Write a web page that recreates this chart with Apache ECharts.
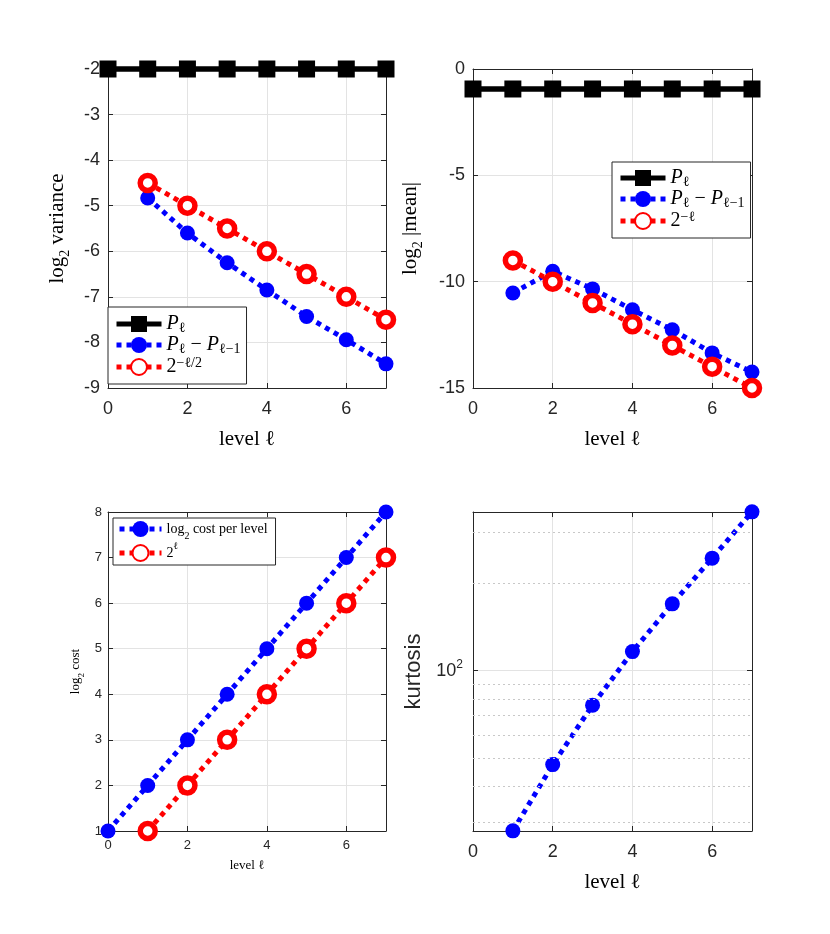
<!DOCTYPE html>
<html>
<head>
<meta charset="utf-8">
<script src="https://cdn.jsdelivr.net/npm/echarts@6/dist/echarts.min.js"></script>
<style>
html, body { margin: 0; padding: 0; background: #fff; }
#chart { width: 830px; height: 934px; }
</style>
</head>
<body>
<div id="chart"></div>
<script>
// levels
const levelsAll = [0, 1, 2, 3, 4, 5, 6, 7];
const levelsFrom1 = [1, 2, 3, 4, 5, 6, 7];

// log2 variance
const varP = [-2, -2, -2, -2, -2, -2, -2, -2];
const varDiff = [-4.83, -5.60, -6.25, -6.85, -7.43, -7.94, -8.47];
const varRef = [-4.5, -5, -5.5, -6, -6.5, -7, -7.5];

// log2 |mean|
const meanP = [-0.94, -0.94, -0.94, -0.94, -0.94, -0.94, -0.94, -0.94];
const meanDiff = [-10.53, -9.51, -10.34, -11.32, -12.26, -13.35, -14.25];
const meanRef = [-9, -10, -11, -12, -13, -14, -15];

// log2 cost
const costPerLevel = [1, 2, 3, 4, 5, 6, 7, 8];
const costRef = [1, 2, 3, 4, 5, 6, 7];

// kurtosis (log axis)
const kurtosis = [28.1, 47.5, 76.1, 116.3, 169.8, 243.9, 352];
const kurtMinorTicks = [30, 40, 50, 60, 70, 80, 90, 200, 300];
const kurtRange = [28.07, 351.6];

const axisColor = '#262626';
const gridColor = '#e3e3e3';
const sans = "'Liberation Sans', Arial, sans-serif";
const serif = "'Liberation Serif', 'DejaVu Serif', serif";

function pairs(xs, ys) {
    return xs.map((x, i) => [x, ys[i]]);
}

// sub/sup get their own small line height so 'top'/'bottom' actually shifts them
function mathRich(size, lh) {
    lh = lh || size + 8;
    const small = Math.round(size * 0.68);
    return {
        t: { fontFamily: serif, fontSize: size, color: '#000', lineHeight: lh },
        i: { fontFamily: serif, fontStyle: 'italic', fontSize: size, color: '#000', lineHeight: lh },
        sub: { fontFamily: serif, fontSize: small, color: '#000', verticalAlign: 'bottom', lineHeight: small + 2 },
        sup: { fontFamily: serif, fontSize: small, color: '#000', verticalAlign: 'top', lineHeight: small + 2 }
    };
}

function xAxes(g, o) {
    return [{
        type: 'value', gridIndex: g, min: 0, max: 7, interval: 2, position: 'bottom',
        name: '{t|level ℓ}', nameLocation: 'middle', nameGap: o.nameGap,
        nameTextStyle: { rich: mathRich(o.nameSize) },
        axisLine: { show: true, onZero: false, lineStyle: { color: axisColor } },
        axisTick: { show: true, inside: true, length: 5, lineStyle: { color: axisColor } },
        axisLabel: { fontFamily: sans, fontSize: o.labelSize, color: axisColor, margin: o.margin, showMaxLabel: false },
        splitLine: { show: true, lineStyle: { color: gridColor } }
    }, {
        type: 'value', gridIndex: g, min: 0, max: 7, interval: 2, position: 'top',
        axisLine: { show: true, onZero: false, lineStyle: { color: axisColor } },
        axisTick: { show: true, inside: true, length: 5, lineStyle: { color: axisColor } },
        axisLabel: { show: false },
        splitLine: { show: false }
    }];
}

function yAxes(g, o) {
    const base = o.log
        ? { type: 'log', logBase: 10, min: o.min, max: o.max }
        : { type: 'value', min: o.min, max: o.max, interval: o.interval };
    return [Object.assign({}, base, {
        gridIndex: g, position: 'left',
        name: o.name, nameLocation: 'middle', nameGap: o.nameGap,
        nameTextStyle: o.nameStyle,
        axisLine: { show: true, onZero: false, lineStyle: { color: axisColor } },
        axisTick: { show: true, inside: true, length: 5, lineStyle: { color: axisColor } },
        axisLabel: Object.assign({ fontFamily: sans, fontSize: o.labelSize, color: axisColor, margin: o.margin }, o.labelExtra || {}),
        splitLine: { show: true, lineStyle: { color: gridColor } }
    }), Object.assign({}, base, {
        gridIndex: g, position: 'right',
        axisLine: { show: true, onZero: false, lineStyle: { color: axisColor } },
        axisTick: { show: true, inside: true, length: 5, lineStyle: { color: axisColor } },
        axisLabel: { show: false },
        splitLine: { show: false }
    })];
}

function blackSeries(name, g, data) {
    return {
        name, type: 'line', xAxisIndex: 2 * g, yAxisIndex: 2 * g, data, clip: false,
        symbol: 'rect', symbolSize: 17,
        itemStyle: { color: '#000' },
        lineStyle: { color: '#000', width: 5.5 }
    };
}
function blueSeries(name, g, data) {
    return {
        name, type: 'line', xAxisIndex: 2 * g, yAxisIndex: 2 * g, data, clip: false,
        symbol: 'circle', symbolSize: 15,
        itemStyle: { color: '#0000ff' },
        lineStyle: { color: '#0000ff', width: 5, type: [5, 5] }
    };
}
function redSeries(name, g, data) {
    return {
        name, type: 'line', xAxisIndex: 2 * g, yAxisIndex: 2 * g, data, clip: false,
        symbol: 'circle', symbolSize: 15,
        itemStyle: { color: '#fff', borderColor: '#ff0000', borderWidth: 5.5 },
        lineStyle: { color: '#ff0000', width: 5, type: [5, 5] }
    };
}

const legendText = {
    var_P: '{i|P}{sub|ℓ}',
    var_dP: '{i|P}{sub|ℓ}{t| − }{i|P}{sub|ℓ−1}',
    var_ref: '{t|2}{sup|−ℓ/2}',
    mean_P: '{i|P}{sub|ℓ}',
    mean_dP: '{i|P}{sub|ℓ}{t| − }{i|P}{sub|ℓ−1}',
    mean_ref: '{t|2}{sup|−ℓ}',
    cost: '{t|log}{sub|2}{t| cost per level}',
    cost_ref: '{t|2}{sup|ℓ}'
};

function legendBox(names, left, top, size, lh, itemW, pad) {
    return {
        data: names, orient: 'vertical', left, top,
        itemWidth: itemW, itemHeight: 20, itemGap: 0, padding: pad,
        backgroundColor: '#fff', borderColor: axisColor, borderWidth: 1, borderRadius: 0,
        selectedMode: false,
        lineStyle: { width: 5 },
        formatter: name => legendText[name],
        textStyle: { rich: mathRich(size, lh) }
    };
}

const chart = echarts.init(document.getElementById('chart'), null, { renderer: 'canvas' });

const option = {
    animation: false,
    backgroundColor: '#fff',
    grid: [
        { left: 108, top: 69, width: 278, height: 319 },
        { left: 473, top: 69, width: 279, height: 319 },
        { left: 108, top: 512, width: 278, height: 319 },
        { left: 473, top: 512, width: 279, height: 319 }
    ],
    xAxis: [].concat(
        xAxes(0, { nameGap: 37, nameSize: 21, labelSize: 18, margin: 12 }),
        xAxes(1, { nameGap: 37, nameSize: 21, labelSize: 18, margin: 12 }),
        xAxes(2, { nameGap: 24, nameSize: 13, labelSize: 13, margin: 8 }),
        xAxes(3, { nameGap: 37, nameSize: 21, labelSize: 18, margin: 12 })
    ),
    yAxis: [].concat(
        yAxes(0, { min: -9, max: -2, interval: 1, name: '{t|log}{sub|2}{t| variance}', nameGap: 36,
            nameStyle: { rich: mathRich(21) }, labelSize: 18, margin: 8 }),
        yAxes(1, { min: -15, max: 0, interval: 5, name: '{t|log}{sub|2}{t| |mean|}', nameGap: 48,
            nameStyle: { rich: mathRich(21) }, labelSize: 18, margin: 8 }),
        yAxes(2, { min: 1, max: 8, interval: 1, name: '{t|log}{sub|2}{t| cost}', nameGap: 22,
            nameStyle: { rich: mathRich(13) }, labelSize: 13, margin: 6 }),
        yAxes(3, { log: true, min: kurtRange[0], max: kurtRange[1], name: 'kurtosis', nameGap: 48,
            nameStyle: { fontFamily: sans, fontSize: 22, color: axisColor }, labelSize: 18, margin: 10,
            labelExtra: {
                showMinLabel: false, showMaxLabel: false,
                formatter: v => Math.abs(v - 100) < 1e-6 ? '{b|10}{p|2}' : '',
                rich: {
                    b: { fontFamily: sans, fontSize: 18, color: axisColor, lineHeight: 24 },
                    p: { fontFamily: sans, fontSize: 12, color: axisColor, verticalAlign: 'top', lineHeight: 13 }
                }
            } })
    ),
    legend: [
        legendBox(['var_P', 'var_dP', 'var_ref'], 108, 307, 20, 22, 45, [7, 6, 7, 6]),
        legendBox(['mean_P', 'mean_dP', 'mean_ref'], 612, 162, 20, 22, 45, [6, 6, 7, 6]),
        legendBox(['cost', 'cost_ref'], 113, 518, 14, 24, 42, [3, 8, 3, 4])
    ],
    series: [
        blackSeries('var_P', 0, pairs(levelsAll, varP)),
        blueSeries('var_dP', 0, pairs(levelsFrom1, varDiff)),
        redSeries('var_ref', 0, pairs(levelsFrom1, varRef)),

        blackSeries('mean_P', 1, pairs(levelsAll, meanP)),
        blueSeries('mean_dP', 1, pairs(levelsFrom1, meanDiff)),
        redSeries('mean_ref', 1, pairs(levelsFrom1, meanRef)),

        blueSeries('cost', 2, pairs(levelsAll, costPerLevel)),
        redSeries('cost_ref', 2, pairs(levelsFrom1, costRef)),

        Object.assign(blueSeries('kurt', 3, pairs(levelsFrom1, kurtosis)), {
            markLine: {
                silent: true, symbol: ['none', 'none'], label: { show: false },
                lineStyle: { type: [2, 3], color: '#c8c8c8', width: 1 },
                data: kurtMinorTicks.map(v => ({ yAxis: v }))
            }
        })
    ]
};

chart.setOption(option);
</script>
</body>
</html>
